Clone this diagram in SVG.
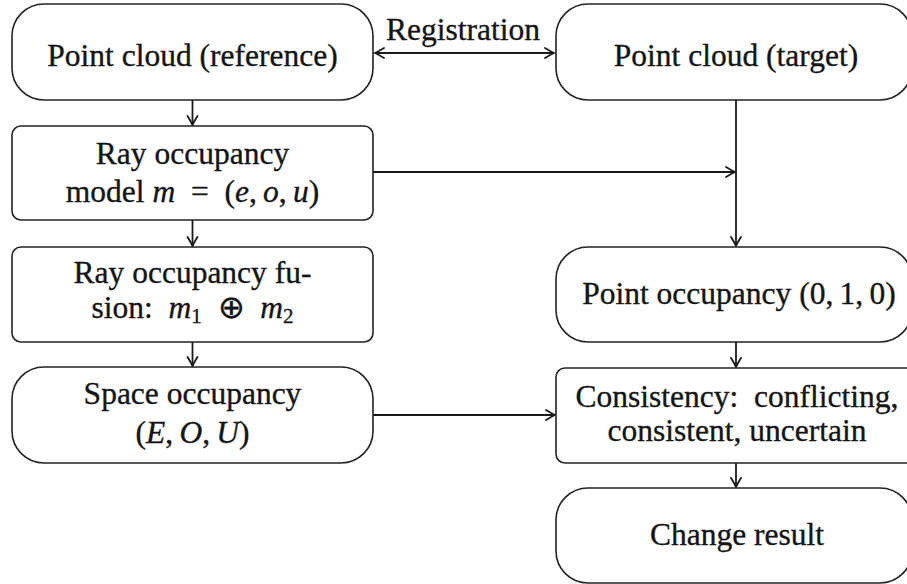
<svg xmlns="http://www.w3.org/2000/svg" width="907" height="584" viewBox="0 0 907 584">
<style>
.box{fill:#fff;stroke:#222;stroke-width:1.6}
.t{font-family:"Liberation Serif","Times New Roman",serif;font-size:31.5px;fill:#151515;stroke:#151515;stroke-width:0.35;text-anchor:middle}
.m{font-style:italic}
.s{font-size:21px}
.c{stroke:#1a1a1a;stroke-width:1.8;fill:none}
</style>
<defs>
<marker id="arr" viewBox="-11 -7 13 14" refX="0" refY="0" markerWidth="13" markerHeight="14" markerUnits="userSpaceOnUse" orient="auto-start-reverse">
<path d="M-9,-5 Q-2.5,-1 0,0 Q-2.5,1 -9,5" fill="none" stroke="#1a1a1a" stroke-width="1.8" stroke-linecap="round"/>
</marker>
</defs>
<rect width="907" height="584" fill="#fff"/>
<g id="connectors">
<line class="c" x1="375" y1="53" x2="554" y2="53" marker-start="url(#arr)" marker-end="url(#arr)"/>
<text class="t" x="463" y="40">Registration</text>
<line class="c" x1="192.5" y1="100" x2="192.5" y2="125" marker-end="url(#arr)"/>
<line class="c" x1="736" y1="100" x2="736" y2="246" marker-end="url(#arr)"/>
<line class="c" x1="373" y1="172" x2="735" y2="172" marker-end="url(#arr)"/>
<line class="c" x1="192.5" y1="220" x2="192.5" y2="246" marker-end="url(#arr)"/>
<line class="c" x1="192.5" y1="342" x2="192.5" y2="366" marker-end="url(#arr)"/>
<line class="c" x1="373" y1="415" x2="555" y2="415" marker-end="url(#arr)"/>
<line class="c" x1="736" y1="342" x2="736" y2="367" marker-end="url(#arr)"/>
<line class="c" x1="736" y1="463" x2="736" y2="487" marker-end="url(#arr)"/>
</g>
<g id="ref">
<rect class="box" x="12" y="4" width="361" height="96" rx="32"/>
<text class="t" x="192.5" y="66">Point cloud (reference)</text>
</g>
<g id="target">
<rect class="box" x="556" y="4" width="356" height="96" rx="32"/>
<text class="t" x="736" y="66">Point cloud (target)</text>
</g>
<g id="raymodel">
<rect class="box" x="12" y="126" width="361" height="94" rx="9"/>
<text class="t" x="192.5" y="164">Ray occupancy</text>
<text class="t" x="192.5" y="202">model <tspan class="m">m</tspan>&#160;&#160;=&#160;&#160;(<tspan class="m">e</tspan>,&#8201;<tspan class="m">o</tspan>,&#8201;<tspan class="m">u</tspan>)</text>
</g>
<g id="fusion">
<rect class="box" x="12" y="247" width="361" height="95" rx="9"/>
<text class="t" x="192.5" y="283">Ray occupancy fu-</text>
<text class="t" x="192.5" y="318">sion:&#160;&#160;<tspan class="m">m</tspan><tspan class="s" dy="5">1</tspan><tspan dy="-5">&#160;&#160;⊕&#160;&#160;</tspan><tspan class="m">m</tspan><tspan class="s" dy="5">2</tspan></text>
</g>
<g id="space">
<rect class="box" x="12" y="367" width="361" height="96" rx="32"/>
<text class="t" x="192.5" y="404">Space occupancy</text>
<text class="t" x="192.5" y="443">(<tspan class="m">E</tspan>,&#8201;<tspan class="m">O</tspan>,&#8201;<tspan class="m">U</tspan>)</text>
</g>
<g id="pointocc">
<rect class="box" x="556" y="247" width="356" height="95" rx="32"/>
<text class="t" x="739" y="304">Point occupancy (0,&#8201;1,&#8201;0)</text>
</g>
<g id="consistency">
<rect class="box" x="556" y="368" width="362" height="95" rx="9"/>
<text class="t" x="737" y="407">Consistency:&#160;&#160;conflicting,</text>
<text class="t" x="737" y="441">consistent, uncertain</text>
</g>
<g id="change">
<rect class="box" x="556" y="488" width="356" height="95" rx="32"/>
<text class="t" x="737" y="545">Change result</text>
</g>
</svg>
